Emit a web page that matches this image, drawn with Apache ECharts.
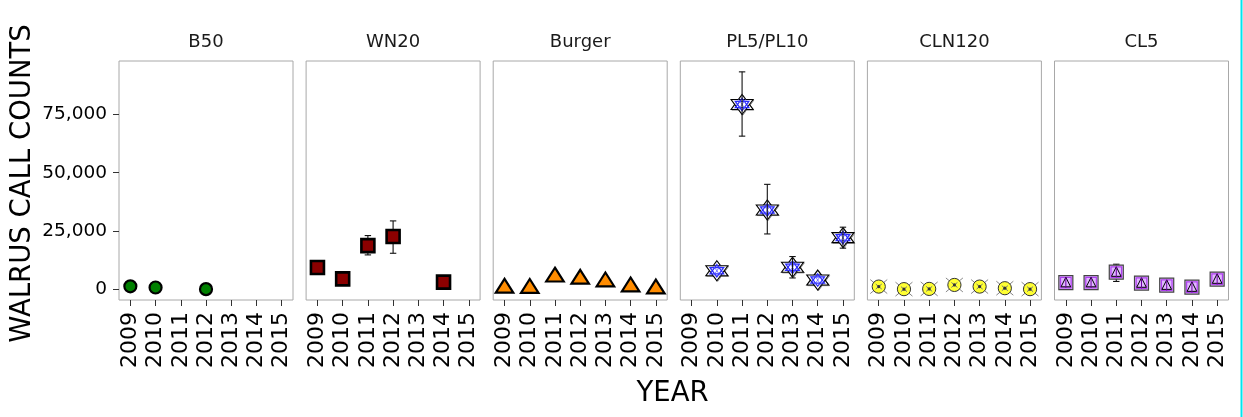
<!DOCTYPE html>
<html><head><meta charset="utf-8">
<script src="https://cdn.jsdelivr.net/npm/echarts@6/dist/echarts.min.js"></script>
<style>html,body{margin:0;padding:0;background:#fff}#c{width:1243px;height:417px}</style>
</head><body><div id="c"></div>
<script>
// ---- data ----
const years = [2009, 2010, 2011, 2012, 2013, 2014, 2015];
const panels = ['B50', 'WN20', 'Burger', 'PL5/PL10', 'CLN120', 'CL5'];
const yTicks = [0, 25000, 50000, 75000];

const b50      = [1200, 700, null, 0, null, null, null];
const b50Lo    = [null, null, null, null, null, null, null];
const b50Hi    = [null, null, null, null, null, null, null];

const wn20     = [9300, 4400, 18700, 22600, null, 3000, null];
const wn20Lo   = [null, null, 14700, 15400, null, null, null];
const wn20Hi   = [null, null, 23000, 29300, null, null, null];

const burger   = [450, 400, 5250, 4300, 3200, 1050, 150];
const burgerLo = [null, null, null, null, null, null, null];
const burgerHi = [null, null, null, null, null, null, null];

const pl       = [null, 7900, 79300, 34000, 9400, 3900, 22100];
const plLo     = [null, null, 65700, 23700, 4800, null, 17600];
const plHi     = [null, null, 93300, 45000, 14000, null, 26600];

const cln120   = [1100, 0, 100, 1800, 1100, 400, 0];
const clnLo    = [null, null, null, null, null, null, null];
const clnHi    = [null, null, null, null, null, null, null];

const cl5      = [2800, 2800, 7300, 2600, 1700, 850, 4300];
const cl5Lo    = [null, null, 3300, null, null, null, null];
const cl5Hi    = [null, null, 10700, null, null, null, null];

const series = [
  [b50, b50Lo, b50Hi], [wn20, wn20Lo, wn20Hi], [burger, burgerLo, burgerHi],
  [pl, plLo, plHi], [cln120, clnLo, clnHi], [cl5, cl5Lo, cl5Hi]
];

// ---- layout ----
const FONT = 'DejaVu Sans';
const lefts = [119, 306.1, 493.2, 680.3, 867.4, 1054.5];
const W = 174, TOP = 61, H = 239;

function poly(pts, style) { return { type: 'polygon', shape: { points: pts }, style: style }; }
function line(x1, y1, x2, y2, stroke, lw) {
  return { type: 'line', shape: { x1, y1, x2, y2 }, style: { stroke: stroke, lineWidth: lw || 1 } };
}

function marker(kind, x, y) {
  const c = [];
  if (kind === 0) {
    c.push({ type: 'circle', shape: { cx: x, cy: y, r: 6 }, style: { fill: '#008000', stroke: '#000', lineWidth: 2.2 } });
  } else if (kind === 1) {
    c.push({ type: 'rect', shape: { x: x - 6.5, y: y - 6.5, width: 13, height: 13 }, style: { fill: '#8b0000', stroke: '#000', lineWidth: 2.6 } });
  } else if (kind === 2) {
    const r = 9.2;
    c.push(poly([[x, y - r], [x + 0.95 * r, y + r / 2], [x - 0.95 * r, y + r / 2]], { fill: '#ff8c00', stroke: '#000', lineWidth: 2.2, lineJoin: 'miter' }));
  } else if (kind === 3) {
    const rx = 11, ry = 10;
    const up = (s, dx, dy) => [[x + dx, y + dy - ry * s], [x + dx + rx * s, y + dy + ry * s / 2], [x + dx - rx * s, y + dy + ry * s / 2]];
    const dn = (s, dx, dy) => [[x + dx, y + dy + ry * s], [x + dx + rx * s, y + dy - ry * s / 2], [x + dx - rx * s, y + dy - ry * s / 2]];
    c.push(poly(up(1, 0.8, 0.6), { fill: 'none', stroke: '#888', lineWidth: 1 }));
    c.push(poly(dn(1, 0.8, 0.6), { fill: 'none', stroke: '#888', lineWidth: 1 }));
    c.push(poly(up(1, 0, 0), { fill: 'rgba(255,255,255,0.85)', stroke: '#000', lineWidth: 1.1 }));
    c.push(poly(dn(1, 0, 0), { fill: 'rgba(255,255,255,0.85)', stroke: '#000', lineWidth: 1.1 }));
    c.push(poly(up(0.62, 0, 0), { fill: 'none', stroke: '#2a2aff', lineWidth: 1.2 }));
    c.push(poly(dn(0.62, 0, 0), { fill: 'none', stroke: '#2a2aff', lineWidth: 1.2 }));
    c.push(line(x - 3.5, y - 5, x + 3.5, y + 5, '#5a5aff', 0.8));
    c.push(line(x + 3.5, y - 5, x - 3.5, y + 5, '#5a5aff', 0.8));
  } else if (kind === 4) {
    c.push(line(x - 8.5, y - 7, x + 8.5, y + 7, '#888', 1));
    c.push(line(x + 8.5, y - 7, x - 8.5, y + 7, '#888', 1));
    c.push({ type: 'circle', shape: { cx: x, cy: y, r: 6.6 }, style: { fill: '#ffff33', stroke: '#333', lineWidth: 1 } });
    c.push(line(x - 3, y - 2.5, x + 3, y + 2.5, '#777', 1));
    c.push(line(x + 3, y - 2.5, x - 3, y + 2.5, '#777', 1));
    c.push({ type: 'circle', shape: { cx: x, cy: y, r: 1.6 }, style: { fill: '#333' } });
  } else {
    c.push({ type: 'rect', shape: { x: x - 7, y: y - 7, width: 14, height: 14 }, style: { fill: '#e0b8ff', stroke: '#444', lineWidth: 1.2 } });
    c.push({ type: 'rect', shape: { x: x - 5.3, y: y - 5.3, width: 10.6, height: 10.6 }, style: { fill: 'none', stroke: '#b040f0', lineWidth: 1.2 } });
    c.push(poly([[x, y - 5.3], [x + 4.8, y + 4.2], [x - 4.8, y + 4.2]], { fill: 'none', stroke: '#000', lineWidth: 1 }));
    c.push(line(x, y - 5.3, x, y + 5.3, '#6a00a0', 1));
  }
  return c;
}

const grids = [], xAxes = [], yAxes = [], seriesOpt = [], graphics = [];
panels.forEach((name, i) => {
  grids.push({ left: lefts[i], top: TOP, width: W, height: H, show: true, borderColor: '#a8a8a8', borderWidth: 1, backgroundColor: '#fff' });
  xAxes.push({
    gridIndex: i, type: 'value', min: 2008.55, max: 2015.45,
    axisLine: { show: false, onZero: false }, splitLine: { show: false },
    axisTick: { show: true, length: 6, lineStyle: { color: '#333' }, customValues: years },
    axisLabel: { customValues: years, rotate: 90, margin: 12, fontSize: 22, fontFamily: FONT, color: '#000', formatter: v => String(v) }
  });
  yAxes.push({
    gridIndex: i, type: 'value', min: -4665, max: 97965,
    axisLine: { show: false, onZero: false }, splitLine: { show: false },
    axisTick: { show: i === 0, length: 6, lineStyle: { color: '#333' }, customValues: yTicks },
    axisLabel: { show: i === 0, customValues: yTicks, margin: 12, fontSize: 18.5, fontFamily: FONT, color: '#000', formatter: v => v.toLocaleString('en-US') }
  });
  const [vals, lo, hi] = series[i];
  const data = [];
  years.forEach((yr, k) => {
    if (vals[k] !== null) data.push([yr, vals[k], lo[k] === null ? NaN : lo[k], hi[k] === null ? NaN : hi[k]]);
  });
  seriesOpt.push({
    type: 'custom', xAxisIndex: i, yAxisIndex: i, data: data, encode: { x: 0, y: 1 },
    renderItem: (params, api) => {
      const p = api.coord([api.value(0), api.value(1)]);
      const l = api.value(2), h = api.value(3);
      const errs = [];
      if (!isNaN(l) && !isNaN(h)) {
        const pl = api.coord([api.value(0), l]), ph = api.coord([api.value(0), h]);
        errs.push(line(p[0], ph[1], p[0], pl[1], '#111', 1.1));
        errs.push(line(p[0] - 3.2, ph[1], p[0] + 3.2, ph[1], '#111', 1.1));
        errs.push(line(p[0] - 3.2, pl[1], p[0] + 3.2, pl[1], '#111', 1.1));
      }
      if (i === 3) return { type: 'group', children: marker(i, p[0], p[1]).concat(errs) };
      return { type: 'group', children: errs.concat(marker(i, p[0], p[1])) };
    }
  });
  graphics.push({
    type: 'text', x: lefts[i] + W / 2, y: 42,
    style: { text: name, fontSize: 18, fontFamily: FONT, fill: '#1a1a1a', align: 'center', verticalAlign: 'middle' }
  });
});

graphics.push({
  type: 'text', x: 22.5, y: 183.5, rotation: Math.PI / 2,
  style: { text: 'WALRUS CALL COUNTS', fontSize: 27.5, fontFamily: FONT, fill: '#000', align: 'center', verticalAlign: 'middle' }
});
graphics.push({
  type: 'text', x: 672.5, y: 394,
  style: { text: 'YEAR', fontSize: 27.5, fontFamily: FONT, fill: '#000', align: 'center', verticalAlign: 'middle' }
});
graphics.push({ type: 'line', shape: { x1: 1241.5, y1: 0, x2: 1241.5, y2: 417 }, style: { stroke: '#00e5ee', lineWidth: 2 } });

const chart = echarts.init(document.getElementById('c'), null, { renderer: 'canvas' });
chart.setOption({
  animation: false, backgroundColor: '#fff',
  grid: grids, xAxis: xAxes, yAxis: yAxes, series: seriesOpt, graphic: graphics
});
</script></body></html>
